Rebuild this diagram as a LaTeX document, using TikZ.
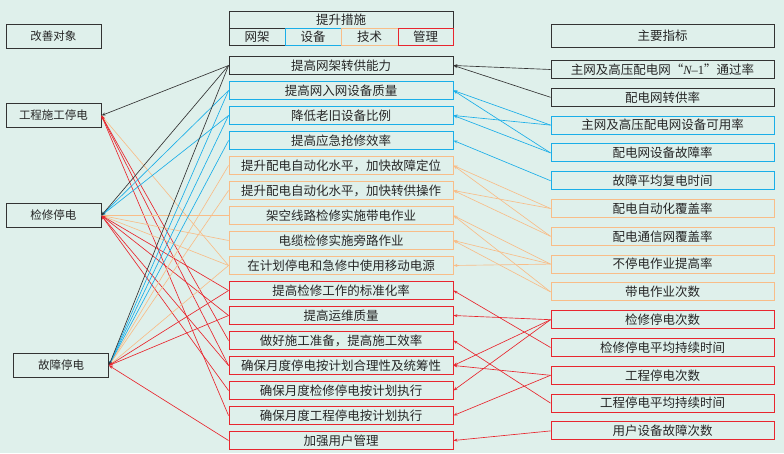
\documentclass[tikz,border=0pt]{standalone}
\usepackage{fontspec}
\setmainfont{Noto Sans CJK SC}
\newfontfamily\latserif{Liberation Serif}
\usetikzlibrary{arrows.meta}
\definecolor{bg}{HTML}{DFF0EB}
\definecolor{cblk}{HTML}{333333}
\definecolor{cblu}{HTML}{1AAEE8}
\definecolor{cora}{HTML}{F8BD88}
\definecolor{cred}{HTML}{E8262E}
\begin{document}
\begin{tikzpicture}[x=1pt,y=-1pt,
  box/.style={draw=#1, fill=bg, line width=0.9pt, inner sep=0pt, text=black!85,
    font=\fontsize{12.5}{14}\selectfont},
  mbox/.style={box=#1, minimum width=224pt, minimum height=17.5pt},
  rbox/.style={box=#1, minimum width=223pt, minimum height=18pt},
  lbox/.style={box=cblk, minimum width=95pt, minimum height=24pt, font=\fontsize{11.5}{13}\selectfont},
  hbox/.style={box=#1, minimum height=17pt},
  ln/.style={draw=#1, line width=0.65pt, -{Stealth[length=4pt,width=3pt]}},
]
\fill[bg] (0,0) rectangle (784,453);
\useasboundingbox (0,0) rectangle (784,453);

% left column
\node[lbox] (L0) at (53.5,36) {改善对象};
\node[lbox] (L1) at (53.5,115.5) {工程施工停电};
\node[lbox] (L2) at (53.5,215.5) {检修停电};
\node[lbox] (L3) at (61,365.5) {故障停电};

% header of middle column
\node[hbox=cblk, minimum width=224pt] (H0) at (341,19.5) {提升措施};
\node[hbox=cblk, minimum width=56pt] (H1) at (257,36.5) {网架};
\node[hbox=cblu, minimum width=56pt] (H2) at (313,36.5) {设备};
\node[hbox=cora, minimum width=57pt] (H3) at (369.5,36.5) {技术};
\node[hbox=cred, minimum width=55pt] (H4) at (425.5,36.5) {管理};

% middle column
\node[mbox=cblk] (M1) at (341,65.5) {提高网架转供能力};
\node[mbox=cblu] (M2) at (341,90.5) {提高网入网设备质量};
\node[mbox=cblu] (M3) at (341,115.5) {降低老旧设备比例};
\node[mbox=cblu] (M4) at (341,140.5) {提高应急抢修效率};
\node[mbox=cora] (M5) at (341,165.5) {提升配电自动化水平，加快故障定位};
\node[mbox=cora] (M6) at (341,190.5) {提升配电自动化水平，加快转供操作};
\node[mbox=cora] (M7) at (341,215.5) {架空线路检修实施带电作业};
\node[mbox=cora] (M8) at (341,240.5) {电缆检修实施旁路作业};
\node[mbox=cora] (M9) at (341,265.5) {在计划停电和急修中使用移动电源};
\node[mbox=cred] (M10) at (341,290.5) {提高检修工作的标准化率};
\node[mbox=cred] (M11) at (341,315.5) {提高运维质量};
\node[mbox=cred] (M12) at (341,340.5) {做好施工准备，提高施工效率};
\node[mbox=cred] (M13) at (341,365.5) {确保月度停电按计划合理性及统筹性};
\node[mbox=cred] (M14) at (341,390.5) {确保月度检修停电按计划执行};
\node[mbox=cred] (M15) at (341,415.5) {确保月度工程停电按计划执行};
\node[mbox=cred] (M16) at (341,440.5) {加强用户管理};

% right column
\node[rbox=cblk, minimum height=23pt] (R0) at (662.5,36) {主要指标};
\node[rbox=cblk] (R1) at (662.5,69.5) {主网及高压配电网“{\latserif\itshape N}{\latserif –1}”通过率};
\node[rbox=cblk] (R2) at (662.5,97.3) {配电网转供率};
\node[rbox=cblu] (R3) at (662.5,125.1) {主网及高压配电网设备可用率};
\node[rbox=cblu] (R4) at (662.5,152.9) {配电网设备故障率};
\node[rbox=cblu] (R5) at (662.5,180.7) {故障平均复电时间};
\node[rbox=cora] (R6) at (662.5,208.5) {配电自动化覆盖率};
\node[rbox=cora] (R7) at (662.5,236.3) {配电通信网覆盖率};
\node[rbox=cora] (R8) at (662.5,264.1) {不停电作业提高率};
\node[rbox=cora] (R9) at (662.5,291.9) {带电作业次数};
\node[rbox=cred] (R10) at (662.5,319.7) {检修停电次数};
\node[rbox=cred] (R11) at (662.5,347.5) {检修停电平均持续时间};
\node[rbox=cred] (R12) at (662.5,375.3) {工程停电次数};
\node[rbox=cred] (R13) at (662.5,403.1) {工程停电平均持续时间};
\node[rbox=cred] (R14) at (662.5,430.9) {用户设备故障次数};

% left connectors (arrow into improvement objects)
\foreach \m/\l/\c in {M9/L1/cora, M12/L1/cred, M13/L1/cred, M15/L1/cred, M1/L1/cblk,
  M7/L2/cora, M8/L2/cora, M9/L2/cora, M10/L2/cred, M11/L2/cred, M13/L2/cred, M14/L2/cred,
  M2/L2/cblu, M3/L2/cblu, M1/L2/cblk,
  M5/L3/cora, M6/L3/cora, M9/L3/cora, M2/L3/cblu, M3/L3/cblu, M4/L3/cblu, M1/L3/cblk,
  M10/L3/cred, M11/L3/cred, M16/L3/cred}
  \draw[ln=\c] (\m.west) -- (\l.east);

% right connectors (arrow into measures)
\foreach \r/\m/\c in {R1/M1/cblk, R2/M1/cblk,
  R3/M2/cblu, R3/M3/cblu, R4/M2/cblu, R4/M3/cblu, R5/M4/cblu,
  R6/M5/cora, R6/M6/cora, R7/M5/cora, R7/M6/cora, R8/M7/cora, R8/M8/cora, R8/M9/cora,
  R9/M7/cora, R9/M8/cora,
  R10/M11/cred, R10/M13/cred, R10/M14/cred, R11/M10/cred, R12/M13/cred, R12/M15/cred,
  R13/M12/cred, R14/M16/cred}
  \draw[ln=\c] (\r.west) -- (\m.east);
\end{tikzpicture}
\end{document}
